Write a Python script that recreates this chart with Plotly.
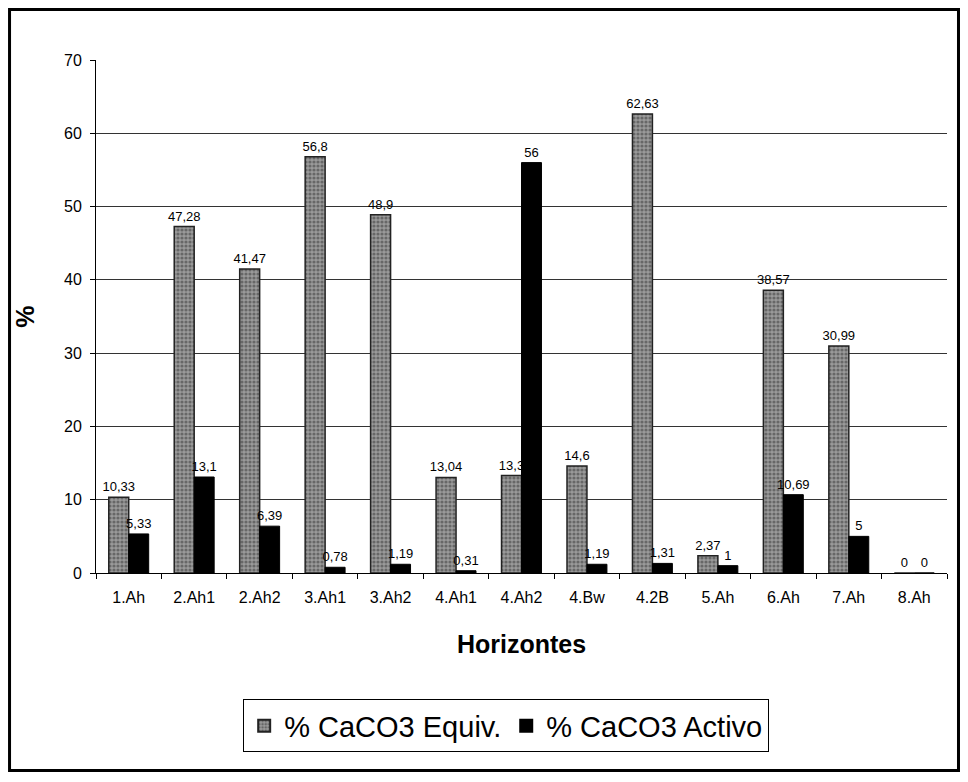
import plotly.graph_objects as go

categories = ["1.Ah", "2.Ah1", "2.Ah2", "3.Ah1", "3.Ah2", "4.Ah1", "4.Ah2",
              "4.Bw", "4.2B", "5.Ah", "6.Ah", "7.Ah", "8.Ah"]
equiv = [10.33, 47.28, 41.47, 56.8, 48.9, 13.04, 13.3, 14.6, 62.63, 2.37, 38.57, 30.99, 0]
activo = [5.33, 13.1, 6.39, 0.78, 1.19, 0.31, 56, 1.19, 1.31, 1, 10.69, 5, 0]
y_ticks = [0, 10, 20, 30, 40, 50, 60, 70]


def fmt(v):
    return f"{v:g}".replace(".", ",")


FONT = "Liberation Sans, Arial, sans-serif"

fig = go.Figure()
fig.add_trace(go.Bar(
    x=categories, y=equiv, name="% CaCO3 Equiv.",
    text=[fmt(v) for v in equiv], textposition="outside",
    textfont=dict(size=13, color="black", family=FONT),
    constraintext="none", cliponaxis=False,
    marker=dict(color="#8c8c8c",
                line=dict(color="#222", width=1.5),
                pattern=dict(shape=".", fgcolor="#333333", bgcolor="#9a9a9a",
                             size=4, solidity=0.5)),
))
fig.add_trace(go.Bar(
    x=categories, y=activo, name="% CaCO3 Activo",
    text=[fmt(v) for v in activo], textposition="outside",
    textfont=dict(size=13, color="black", family=FONT),
    constraintext="none", cliponaxis=False,
    marker=dict(color="black", line=dict(color="black", width=1)),
))

fig.update_layout(
    width=952, height=766,
    margin=dict(l=88, r=13, t=52, b=201),
    paper_bgcolor="white", plot_bgcolor="white",
    barmode="group", bargap=0.39, bargroupgap=0,
    font=dict(family=FONT, color="black"),
    xaxis=dict(
        type="category", tickson="boundaries", ticks="outside", ticklen=5,
        tickcolor="black", showline=True, linecolor="black", linewidth=1,
        tickfont=dict(size=16), showgrid=False, ticklabelstandoff=10,
        title=dict(text="<b>Horizontes</b>", font=dict(size=25), standoff=30),
    ),
    yaxis=dict(
        range=[0, 70], tickvals=y_ticks, ticks="outside", ticklen=5,
        tickcolor="black", showline=True, linecolor="black", linewidth=1,
        showgrid=True, gridcolor="#333", gridwidth=1, ticklabelstandoff=5,
        tickfont=dict(size=16), zeroline=False,
        title=dict(text="<b>%</b>", font=dict(size=25), standoff=22),
    ),
    legend=dict(
        orientation="h", x=0.482, xanchor="center", y=-0.298, yanchor="middle",
        bordercolor="black", borderwidth=1, bgcolor="white",
        font=dict(size=29), itemsizing="constant", traceorder="normal",
    ),
    showlegend=True,
)

fig.add_shape(type="rect", xref="paper", yref="paper",
              x0=-0.1016, x1=1.0135, y0=-0.385, y1=1.0984,
              line=dict(color="black", width=3), layer="above")

fig.write_html("out.html")
